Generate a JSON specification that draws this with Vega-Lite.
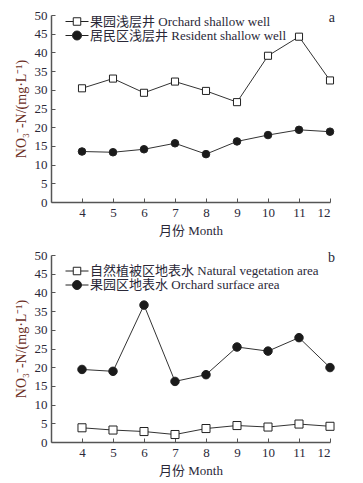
{
  "$schema": "https://vega.github.io/schema/vega-lite/v6.json",
  "padding": {"left": 14, "top": 9, "right": 5, "bottom": 5},
  "spacing": 53,
  "bounds": "flush",
  "background": "white",
  "config": {
    "view": {"stroke": null},
    "font": "Liberation Serif, Noto Sans CJK SC",
    "axis": {
      "grid": false,
      "domainColor": "#555555",
      "domainWidth": 1.5,
      "tickColor": "#555555",
      "tickWidth": 1,
      "tickSize": -4,
      "labelPadding": 8,
      "labelFont": "Liberation Serif",
      "labelFontSize": 13,
      "labelColor": "#2a2838",
      "titleFont": "Liberation Serif, Noto Sans CJK SC",
      "titleFontSize": 13,
      "titleFontWeight": "normal",
      "titleColor": "#2a2838"
    },
    "legend": {
      "orient": "none",
      "padding": 0,
      "labelFont": "Liberation Serif, Noto Sans CJK SC",
      "labelFontSize": 13,
      "labelColor": "#2a2838",
      "labelOffset": 6.5,
      "symbolSize": 100,
      "symbolStrokeWidth": 1,
      "symbolOpacity": 1,
      "rowPadding": -1,
      "title": null,
      "labelLimit": 400
    },
    "title": {"font": "Liberation Serif", "fontSize": 14, "fontWeight": "normal", "color": "#2a2838"}
  },
  "datasets": {
    "a": [
      {"series": "果园浅层井 Orchard shallow well", "month": 4, "value": 30.4},
      {"series": "果园浅层井 Orchard shallow well", "month": 5, "value": 33.0},
      {"series": "果园浅层井 Orchard shallow well", "month": 6, "value": 29.2},
      {"series": "果园浅层井 Orchard shallow well", "month": 7, "value": 32.2},
      {"series": "果园浅层井 Orchard shallow well", "month": 8, "value": 29.7},
      {"series": "果园浅层井 Orchard shallow well", "month": 9, "value": 26.7},
      {"series": "果园浅层井 Orchard shallow well", "month": 10, "value": 39.1},
      {"series": "果园浅层井 Orchard shallow well", "month": 11, "value": 44.2},
      {"series": "果园浅层井 Orchard shallow well", "month": 12, "value": 32.5},
      {"series": "居民区浅层井 Resident shallow well", "month": 4, "value": 13.5},
      {"series": "居民区浅层井 Resident shallow well", "month": 5, "value": 13.3},
      {"series": "居民区浅层井 Resident shallow well", "month": 6, "value": 14.1},
      {"series": "居民区浅层井 Resident shallow well", "month": 7, "value": 15.7},
      {"series": "居民区浅层井 Resident shallow well", "month": 8, "value": 12.8},
      {"series": "居民区浅层井 Resident shallow well", "month": 9, "value": 16.2},
      {"series": "居民区浅层井 Resident shallow well", "month": 10, "value": 17.9},
      {"series": "居民区浅层井 Resident shallow well", "month": 11, "value": 19.3},
      {"series": "居民区浅层井 Resident shallow well", "month": 12, "value": 18.8}
    ],
    "b": [
      {"series": "自然植被区地表水 Natural vegetation area", "month": 4, "value": 3.8},
      {"series": "自然植被区地表水 Natural vegetation area", "month": 5, "value": 3.2},
      {"series": "自然植被区地表水 Natural vegetation area", "month": 6, "value": 2.8},
      {"series": "自然植被区地表水 Natural vegetation area", "month": 7, "value": 2.0},
      {"series": "自然植被区地表水 Natural vegetation area", "month": 8, "value": 3.6},
      {"series": "自然植被区地表水 Natural vegetation area", "month": 9, "value": 4.4},
      {"series": "自然植被区地表水 Natural vegetation area", "month": 10, "value": 4.0},
      {"series": "自然植被区地表水 Natural vegetation area", "month": 11, "value": 4.8},
      {"series": "自然植被区地表水 Natural vegetation area", "month": 12, "value": 4.2},
      {"series": "果园区地表水 Orchard surface area", "month": 4, "value": 19.4},
      {"series": "果园区地表水 Orchard surface area", "month": 5, "value": 18.9},
      {"series": "果园区地表水 Orchard surface area", "month": 6, "value": 36.6},
      {"series": "果园区地表水 Orchard surface area", "month": 7, "value": 16.2},
      {"series": "果园区地表水 Orchard surface area", "month": 8, "value": 18.0},
      {"series": "果园区地表水 Orchard surface area", "month": 9, "value": 25.4},
      {"series": "果园区地表水 Orchard surface area", "month": 10, "value": 24.3},
      {"series": "果园区地表水 Orchard surface area", "month": 11, "value": 27.9},
      {"series": "果园区地表水 Orchard surface area", "month": 12, "value": 19.9}
    ]
  },
  "vconcat": [
    {
      "width": 279,
      "height": 187,
      "title": {"text": "a", "anchor": "end", "frame": "group", "offset": -16, "dx": 5},
      "data": {"name": "a"},
      "encoding": {
        "x": {"field": "month", "type": "quantitative", "scale": {"domain": [3, 12], "nice": false, "zero": false}, "axis": {"values": [4, 5, 6, 7, 8, 9, 10, 11, 12], "title": "月份 Month", "titlePadding": 5}},
        "y": {"field": "value", "type": "quantitative", "scale": {"domain": [0, 50], "nice": false}, "axis": {"values": [0, 5, 10, 15, 20, 25, 30, 35, 40, 45, 50], "title": "NO₃⁻-N/(mg·L⁻¹)", "titleColor": "#6b2e1e", "titleFontSize": 14, "titlePadding": 6}}
      },
      "layer": [
        {"mark": {"type": "line", "color": "#333333", "strokeWidth": 1}, "encoding": {"detail": {"field": "series"}}},
        {
          "mark": {"type": "point", "filled": true, "stroke": "#222222", "strokeWidth": 1, "opacity": 1},
          "encoding": {
            "shape": {"field": "series", "scale": {"domain": ["果园浅层井 Orchard shallow well", "居民区浅层井 Resident shallow well"], "range": ["square", "circle"]}, "legend": null},
            "fill": {"field": "series", "scale": {"domain": ["果园浅层井 Orchard shallow well", "居民区浅层井 Resident shallow well"], "range": ["#ffffff", "#1a1a1a"]}, "legend": null},
            "size": {"field": "series", "scale": {"domain": ["果园浅层井 Orchard shallow well", "居民区浅层井 Resident shallow well"], "range": [50, 72]}, "legend": null}
          }
        },
        {
          "transform": [{"filter": "datum.month < 0"}],
          "mark": {"type": "point", "filled": true, "strokeWidth": 1, "opacity": 1, "size": 100},
          "encoding": {
            "shape": {"field": "series", "scale": {"domain": ["果园浅层井 Orchard shallow well", "居民区浅层井 Resident shallow well"], "range": ["M-2.3,0H-0.75M0.75,0H2.3M-0.75,-0.75H0.75V0.75H-0.75Z", "M-2.3,0H-0.9M0.9,0H2.3M-0.9,0A0.9,0.9,0,1,1,0.9,0A0.9,0.9,0,1,1,-0.9,0Z"]}, "legend": {"legendX": 19.5, "legendY": 0}},
            "fill": {"field": "series", "scale": {"domain": ["果园浅层井 Orchard shallow well", "居民区浅层井 Resident shallow well"], "range": ["#ffffff", "#1a1a1a"]}, "legend": {"legendX": 19.5, "legendY": 0}},
            "stroke": {"field": "series", "scale": {"domain": ["果园浅层井 Orchard shallow well", "居民区浅层井 Resident shallow well"], "range": ["#222222", "#222222"]}, "legend": {"legendX": 19.5, "legendY": 0}}
          }
        }
      ],
      "resolve": {"scale": {"shape": "independent", "fill": "independent", "stroke": "independent"}}
    },
    {
      "width": 279,
      "height": 187,
      "title": {"text": "b", "anchor": "end", "frame": "group", "offset": -16, "dx": 5},
      "data": {"name": "b"},
      "encoding": {
        "x": {"field": "month", "type": "quantitative", "scale": {"domain": [3, 12], "nice": false, "zero": false}, "axis": {"values": [4, 5, 6, 7, 8, 9, 10, 11, 12], "title": "月份 Month", "titlePadding": 5}},
        "y": {"field": "value", "type": "quantitative", "scale": {"domain": [0, 50], "nice": false}, "axis": {"values": [0, 5, 10, 15, 20, 25, 30, 35, 40, 45, 50], "title": "NO₃⁻-N/(mg·L⁻¹)", "titleColor": "#6b2e1e", "titleFontSize": 14, "titlePadding": 6}}
      },
      "layer": [
        {"mark": {"type": "line", "color": "#333333", "strokeWidth": 1}, "encoding": {"detail": {"field": "series"}}},
        {
          "mark": {"type": "point", "filled": true, "stroke": "#222222", "strokeWidth": 1, "opacity": 1},
          "encoding": {
            "shape": {"field": "series", "scale": {"domain": ["自然植被区地表水 Natural vegetation area", "果园区地表水 Orchard surface area"], "range": ["square", "circle"]}, "legend": null},
            "fill": {"field": "series", "scale": {"domain": ["自然植被区地表水 Natural vegetation area", "果园区地表水 Orchard surface area"], "range": ["#ffffff", "#1a1a1a"]}, "legend": null},
            "size": {"field": "series", "scale": {"domain": ["自然植被区地表水 Natural vegetation area", "果园区地表水 Orchard surface area"], "range": [45, 110]}, "legend": null}
          }
        },
        {
          "transform": [{"filter": "datum.month < 0"}],
          "mark": {"type": "point", "filled": true, "strokeWidth": 1, "opacity": 1, "size": 100},
          "encoding": {
            "shape": {"field": "series", "scale": {"domain": ["自然植被区地表水 Natural vegetation area", "果园区地表水 Orchard surface area"], "range": ["M-2.3,0H-0.75M0.75,0H2.3M-0.75,-0.75H0.75V0.75H-0.75Z", "M-2.3,0H-0.9M0.9,0H2.3M-0.9,0A0.9,0.9,0,1,1,0.9,0A0.9,0.9,0,1,1,-0.9,0Z"]}, "legend": {"legendX": 19.5, "legendY": 9.5}},
            "fill": {"field": "series", "scale": {"domain": ["自然植被区地表水 Natural vegetation area", "果园区地表水 Orchard surface area"], "range": ["#ffffff", "#1a1a1a"]}, "legend": {"legendX": 19.5, "legendY": 9.5}},
            "stroke": {"field": "series", "scale": {"domain": ["自然植被区地表水 Natural vegetation area", "果园区地表水 Orchard surface area"], "range": ["#222222", "#222222"]}, "legend": {"legendX": 19.5, "legendY": 9.5}}
          }
        }
      ],
      "resolve": {"scale": {"shape": "independent", "fill": "independent", "stroke": "independent"}}
    }
  ]
}
